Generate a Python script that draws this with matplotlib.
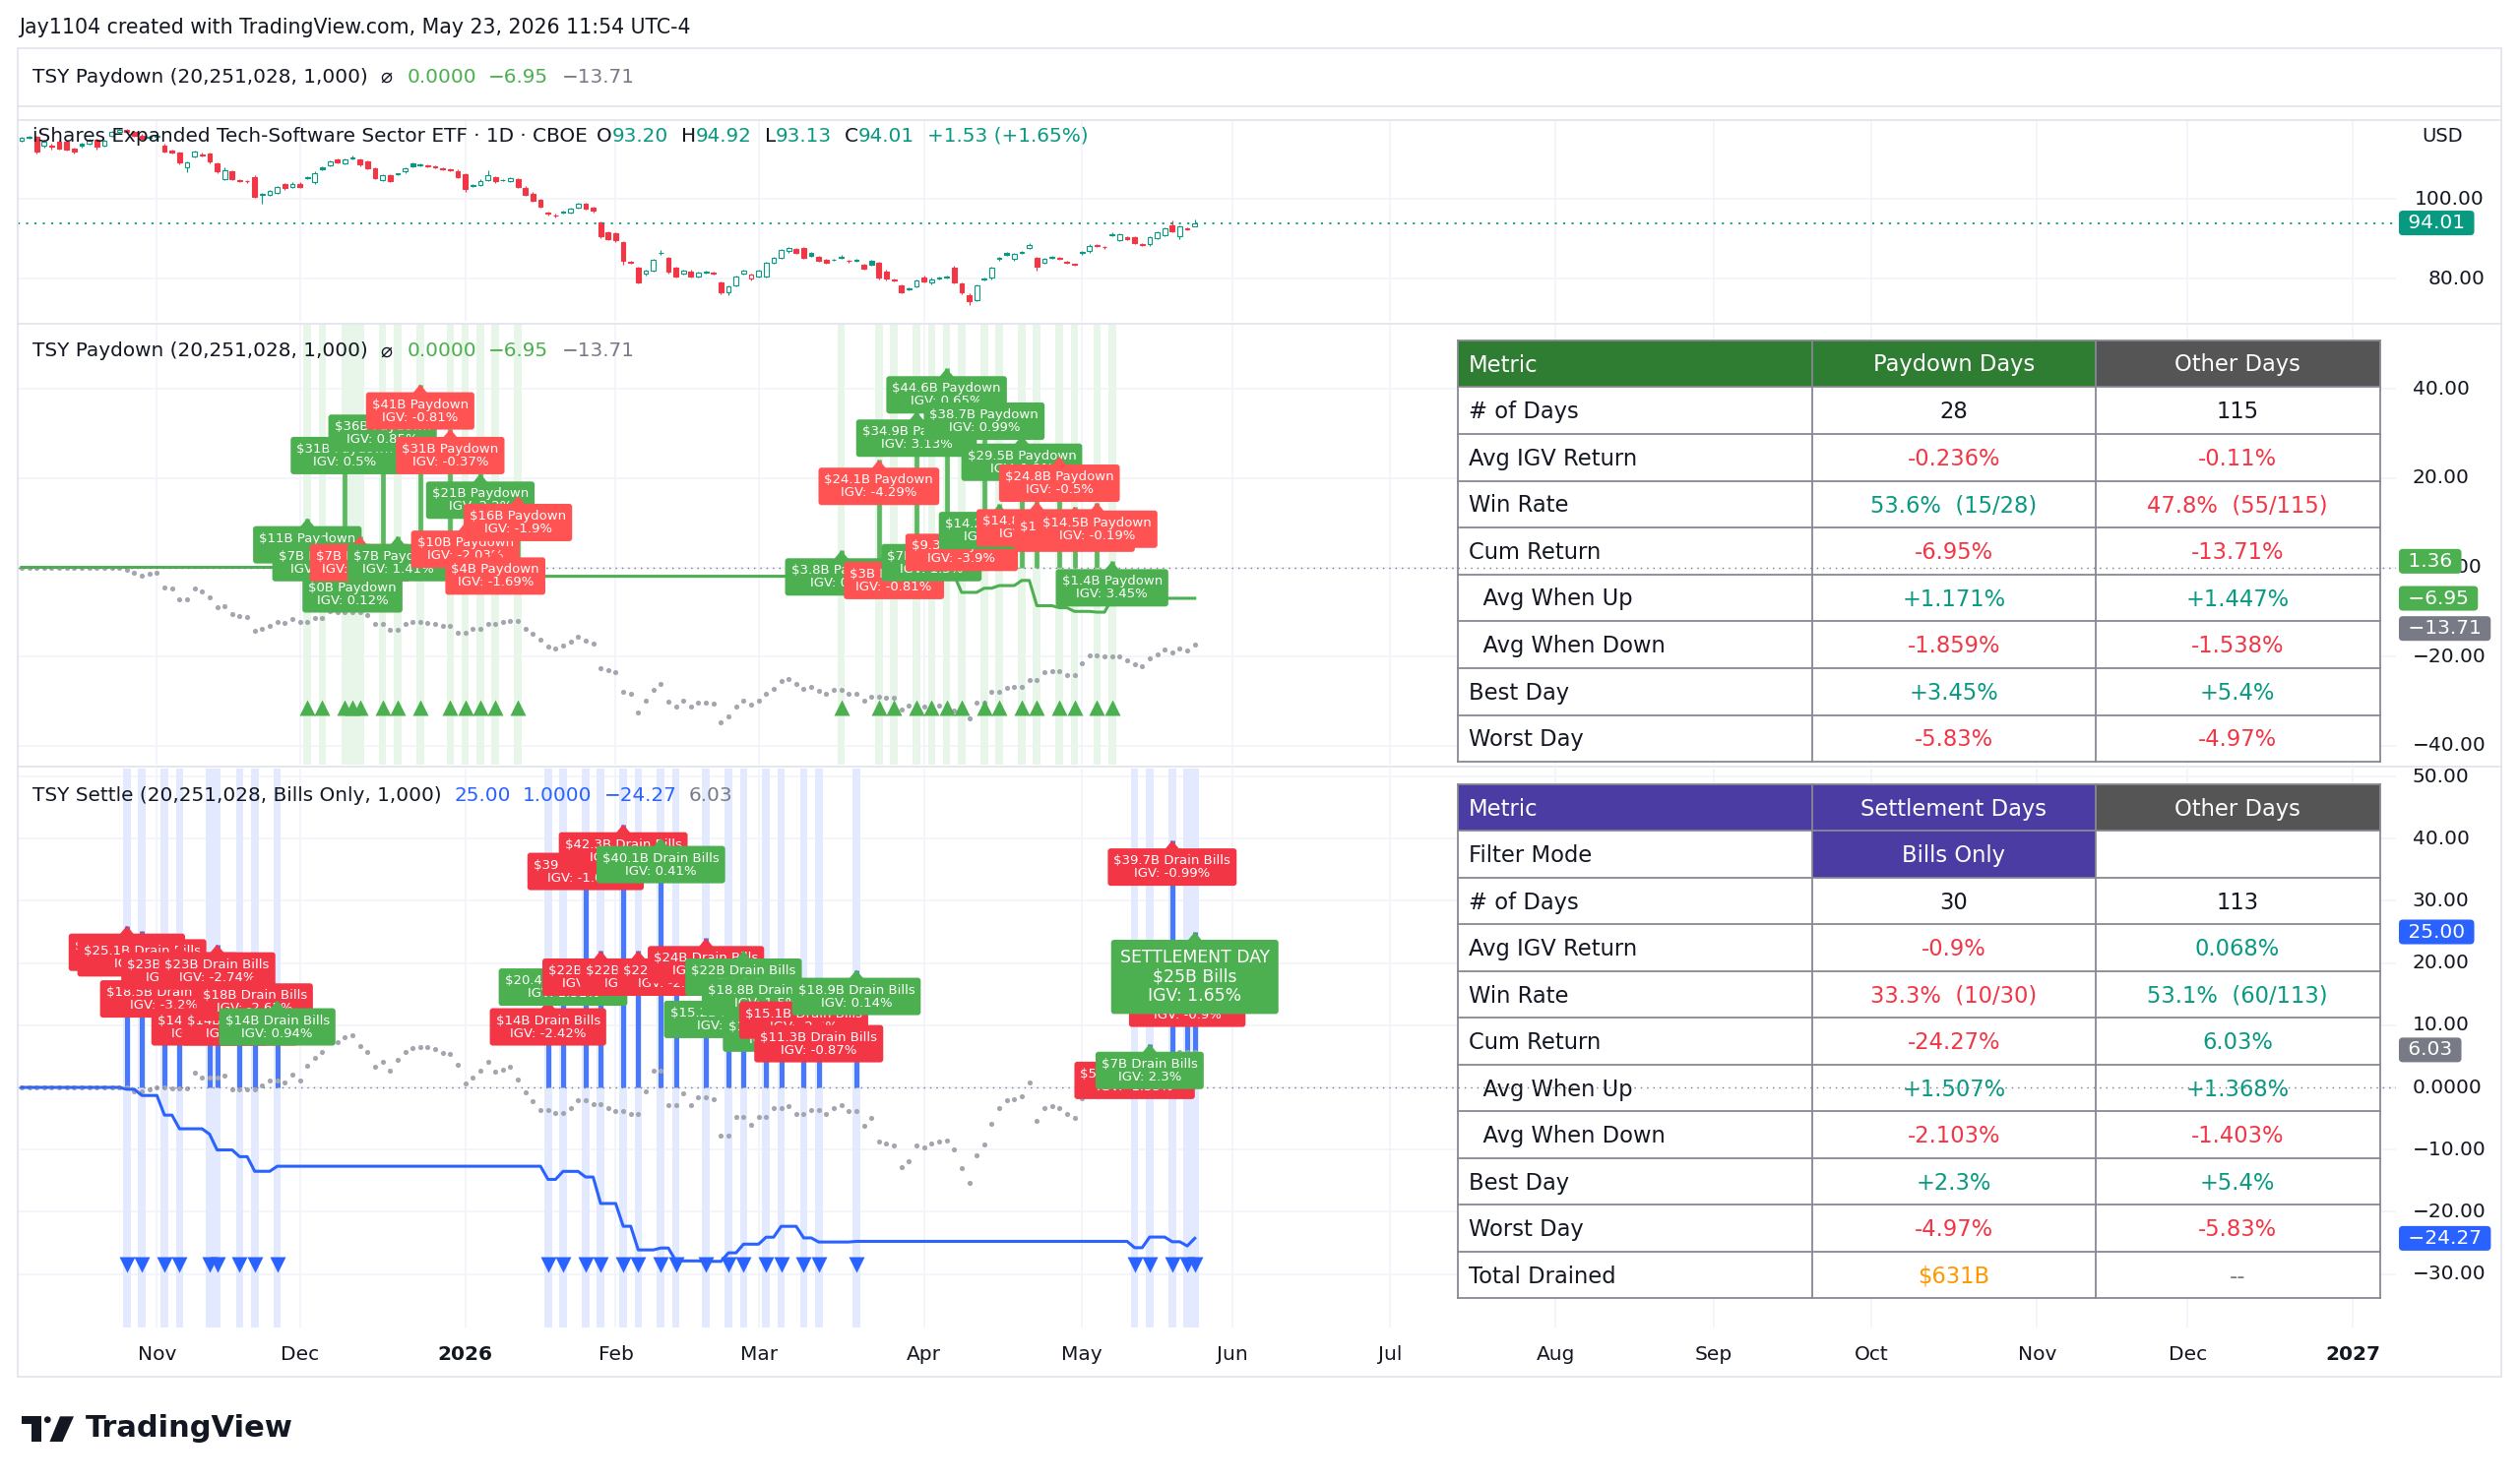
import numpy as np
import pandas as pd
import matplotlib
matplotlib.use("Agg")
import matplotlib.pyplot as plt
from matplotlib.patches import Rectangle, Polygon, Circle
from matplotlib.lines import Line2D
from matplotlib.transforms import IdentityTransform, blended_transform_factory

plt.rcParams["font.family"] = ["DejaVu Sans"]

# ------------------------------------------------------------------ data
first_bar = "2025-10-08"
last_future = "2027-02-26"
market_holidays = ["2025-11-27", "2025-12-25", "2026-01-01", "2026-01-19", "2026-02-16",
                   "2026-04-03", "2026-05-25", "2026-06-19", "2026-07-03", "2026-09-07",
                   "2026-11-26", "2026-12-25", "2027-01-01", "2027-01-18", "2027-02-15"]
stats_start = "2025-10-28"

opens = [114.7, 115.6, 115.6, 113.3, 113.4, 114.4, 114.3, 112.7, 113.8, 113.9,
         114.8, 113.4, 116.0, 116.9, 117.3, 116.8, 116.0, 115.3, 115.6, 113.5,
         112.1, 111.6, 108.0, 110.8, 111.2, 111.5, 109.0, 105.0, 106.9, 104.7,
         104.5, 105.6, 101.1, 101.0, 101.5, 103.8, 103.1, 103.9, 105.2, 104.3,
         108.0, 108.5, 110.0, 109.0, 110.3, 110.0, 109.4, 107.7, 104.8, 106.0,
         106.2, 106.9, 108.9, 108.6, 108.3, 108.2, 107.8, 107.5, 107.1, 106.3,
         103.4, 103.5, 104.8, 105.4, 104.7, 104.6, 104.9, 102.9, 101.4, 99.8,
         96.5, 96.0, 96.9, 96.6, 97.8, 98.9, 97.9, 94.1, 91.6, 91.4,
         89.1, 84.2, 82.7, 81.3, 82.1, 86.4, 85.2, 82.7, 81.3, 81.9,
         80.6, 81.7, 81.4, 79.0, 76.6, 78.3, 81.4, 80.0, 80.5, 80.6,
         84.1, 85.2, 86.9, 87.5, 87.7, 86.4, 85.4, 84.8, 84.7, 85.6,
         84.5, 84.6, 83.5, 84.4, 84.0, 81.9, 79.7, 78.3, 77.4, 78.1,
         80.4, 79.0, 80.1, 80.6, 82.9, 78.9, 76.0, 74.6, 80.0, 80.2,
         85.2, 86.4, 84.9, 86.5, 87.7, 85.2, 84.0, 85.4, 85.1, 84.2,
         83.6, 86.8, 86.9, 88.4, 88.0, 91.3, 89.7, 90.5, 90.5, 88.6,
         88.6, 90.2, 91.0, 93.5, 90.6, 92.6, 93.20]
closes = [115.3, 115.4, 112.0, 114.4, 113.2, 112.7, 112.5, 111.9, 113.3, 114.8,
          113.1, 114.6, 116.8, 117.4, 116.8, 116.0, 115.2, 115.6, 116.0, 112.0,
          111.8, 109.1, 109.1, 111.9, 111.0, 109.4, 106.9, 107.3, 105.0, 104.5,
          104.4, 100.6, 101.3, 102.1, 103.0, 102.7, 103.9, 103.0, 105.4, 106.6,
          107.6, 109.4, 109.2, 110.0, 110.4, 108.6, 107.7, 105.2, 106.0, 104.6,
          106.3, 107.7, 108.3, 108.5, 108.4, 108.1, 107.5, 107.3, 105.5, 102.5,
          103.5, 104.6, 106.0, 104.4, 104.8, 105.2, 103.1, 101.0, 99.6, 98.1,
          96.3, 95.8, 96.6, 97.5, 98.8, 97.7, 97.0, 90.6, 90.0, 89.6,
          84.4, 84.0, 79.1, 82.1, 84.8, 86.5, 81.9, 80.6, 82.1, 80.5,
          81.6, 81.6, 81.3, 76.5, 78.0, 80.5, 82.1, 81.0, 82.1, 84.0,
          85.2, 87.3, 87.7, 86.5, 85.2, 85.8, 84.6, 84.0, 84.8, 85.3,
          84.4, 84.5, 82.5, 83.6, 80.2, 80.0, 79.6, 76.6, 77.5, 79.6,
          79.4, 79.9, 80.2, 80.3, 79.1, 76.5, 74.4, 78.3, 79.8, 82.7,
          84.9, 86.0, 86.2, 86.6, 88.5, 83.1, 85.0, 85.2, 85.0, 84.1,
          83.5, 86.4, 88.3, 88.2, 87.9, 91.0, 91.1, 90.0, 89.0, 88.5,
          90.5, 91.6, 92.7, 91.9, 93.1, 92.48, 94.01]
up_wick = [0.3, 0.3, 0.2, 0.3, 0.4, 0.4, 0.3, 0.3, 0.3, 0.3,
           0.3, 0.3, 0.3, 0.3, 0.3, 0.3, 0.3, 0.3, 0.3, 0.3,
           0.3, 0.3, 0.3, 0.3, 0.4, 0.3, 0.3, 0.6, 0.3, 0.3,
           0.3, 0.5, 0.3, 0.3, 0.3, 0.3, 0.3, 0.3, 0.3, 0.3,
           0.3, 0.3, 0.3, 0.3, 0.5, 0.3, 0.3, 0.3, 0.3, 0.3,
           0.3, 0.3, 0.3, 0.3, 0.3, 0.3, 0.3, 0.3, 0.3, 0.3,
           0.3, 0.3, 1.2, 0.3, 0.3, 0.3, 0.3, 0.3, 0.3, 0.3,
           0.3, 0.3, 0.3, 0.3, 0.3, 0.3, 0.3, 0.3, 0.3, 0.3,
           0.3, 0.3, 0.3, 0.3, 0.3, 0.8, 0.3, 0.3, 0.3, 0.3,
           0.3, 0.3, 0.3, 0.3, 0.3, 0.3, 0.3, 0.3, 0.3, 0.3,
           0.3, 0.3, 0.3, 0.3, 0.3, 0.3, 0.3, 0.3, 0.3, 0.3,
           0.3, 0.3, 0.3, 0.3, 0.3, 0.3, 0.3, 0.3, 0.3, 0.3,
           0.3, 0.3, 0.3, 0.3, 0.5, 0.3, 0.3, 0.3, 0.3, 0.3,
           0.3, 0.3, 0.3, 0.3, 0.5, 0.3, 0.3, 0.3, 0.3, 0.3,
           0.3, 0.3, 0.3, 0.3, 0.3, 0.3, 0.3, 0.3, 0.3, 0.3,
           0.3, 0.3, 0.3, 1.1, 0.3, 0.3, 0.91]
dn_wick = [0.3, 0.3, 0.6, 0.3, 0.9, 0.3, 0.3, 0.5, 0.3, 0.3,
           0.8, 0.3, 0.3, 0.3, 0.3, 0.3, 0.3, 0.3, 0.3, 0.4,
           0.3, 0.3, 1.2, 0.3, 0.3, 0.4, 0.3, 0.3, 0.3, 0.3,
           0.3, 0.3, 2.3, 0.3, 0.3, 0.3, 0.3, 0.3, 0.3, 0.4,
           0.3, 0.3, 0.3, 0.3, 0.3, 0.3, 0.3, 0.3, 0.3, 0.3,
           0.3, 0.3, 0.3, 0.3, 0.3, 0.3, 0.3, 0.3, 0.3, 0.6,
           0.3, 0.3, 0.3, 0.3, 0.3, 0.3, 0.3, 0.3, 0.3, 0.3,
           0.3, 0.3, 0.3, 0.3, 0.3, 0.3, 0.3, 0.3, 0.3, 0.3,
           0.8, 0.3, 0.3, 0.5, 0.3, 0.3, 0.6, 0.3, 0.3, 0.3,
           0.3, 0.3, 0.3, 0.3, 0.6, 0.3, 0.3, 0.3, 0.3, 0.3,
           0.3, 0.3, 0.3, 0.3, 0.3, 0.3, 0.3, 0.3, 0.3, 0.3,
           0.3, 0.3, 0.3, 0.3, 0.3, 0.3, 0.3, 0.3, 0.3, 0.3,
           0.3, 0.3, 0.3, 0.3, 0.3, 0.3, 0.9, 0.3, 0.3, 0.3,
           0.3, 0.3, 0.3, 0.3, 0.3, 1.0, 0.3, 0.3, 0.3, 0.3,
           0.3, 0.3, 0.3, 0.3, 0.3, 0.3, 0.3, 0.3, 0.3, 0.3,
           0.3, 0.3, 0.3, 0.3, 0.6, 0.3, 0.07]

paydown_dates = ["2025-12-02", "2025-12-04", "2025-12-09", "2025-12-10", "2025-12-11",
                 "2025-12-16", "2025-12-18", "2025-12-23", "2025-12-30", "2026-01-02",
                 "2026-01-06", "2026-01-08", "2026-01-13", "2026-03-17", "2026-03-24",
                 "2026-03-26", "2026-03-31", "2026-04-02", "2026-04-07", "2026-04-09",
                 "2026-04-14", "2026-04-16", "2026-04-21", "2026-04-23", "2026-04-28",
                 "2026-04-30", "2026-05-05", "2026-05-07"]
paydown_bn = [11, 7, 31, 0, 7, 36, 7, 41, 31, 10, 21, 4, 16,
              3.8, 24.1, 3, 34.9, 7, 44.6, 9.3, 38.7, 14.2, 29.5, 14.8, 24.8, 13.6, 14.5, 1.36]
paydown_igv = [0.45, 0.3, 0.5, 0.12, -0.95, 0.85, 1.41, -0.81, -0.37, -2.03, 2.2, -1.69, -1.9,
               0.4, -4.29, -0.81, 3.13, 1.3, 0.65, -3.9, 0.99, 0.62, 1.2, -5.83, -0.5, -0.9, -0.19, 3.45]

settle_dates = ["2025-10-28", "2025-10-30", "2025-11-04", "2025-11-06", "2025-11-12",
                "2025-11-13", "2025-11-18", "2025-11-20", "2025-11-25", "2026-01-20",
                "2026-01-22", "2026-01-27", "2026-01-29", "2026-02-03", "2026-02-05",
                "2026-02-10", "2026-02-12", "2026-02-19", "2026-02-24", "2026-02-26",
                "2026-03-03", "2026-03-05", "2026-03-10", "2026-03-12", "2026-03-19",
                "2026-05-12", "2026-05-14", "2026-05-19", "2026-05-21", "2026-05-22"]
settle_bn = [26, 25.1, 18.5, 23, 14, 23, 14, 18, 14,
             14, 20.4, 39, 22, 42.3, 22, 40.1, 22, 24, 15.2, 22, 18.8, 13, 15.1, 11.3, 18.9,
             5.4, 7, 39.7, 17, 25]
settle_igv = [-0.3, -1.0, -3.2, -2.3, -0.93, -2.74, -1.2, -2.65, 0.94,
              -2.42, 1.51, -1.05, -4.97, -4.5, -4.9, 0.41, -2.79, -0.1, 1.9, 1.9, 1.5, 2.3,
              -2.4, -0.87, 0.14, -1.35, 2.3, -0.99, -0.9, 1.65]

# header / legend texts
credit_text = "Jay1104 created with TradingView.com, May 23, 2026 11:54 UTC-4"
price_name = "iShares Expanded Tech-Software Sector ETF \u00b7 1D \u00b7 CBOE"
ohlc_vals = ["93.20", "94.92", "93.13", "94.01"]
change_text = "+1.53 (+1.65%)"
paydown_title = "TSY Paydown (20,251,028, 1,000)"
paydown_legend_vals = ["0.0000", "\u22126.95", "\u221213.71"]
settle_title = "TSY Settle (20,251,028, Bills Only, 1,000)"
settle_legend_vals = ["25.00", "1.0000", "\u221224.27", "6.03"]

price_ticks = [100, 80]
pane2_ticks = [40, 20, 0, -20, -40]
pane3_ticks = [50, 40, 30, 20, 10, 0, -10, -20, -30]
last_price = 94.01
pane2_tags = [(1.36, "1.36", "#4caf50"), (-6.95, "\u22126.95", "#4caf50"), (-13.71, "\u221213.71", "#787b86")]
pane3_tags = [(25.0, "25.00", "#2962ff"), (6.03, "6.03", "#787b86"), (-24.27, "\u221224.27", "#2962ff")]

K, G, R, O, GR = "#131722", "#089981", "#f23645", "#ff9800", "#787b86"
tbl1_header = ["Metric", "Paydown Days", "Other Days"]
tbl1_rows = [["# of Days", "28", "115"],
             ["Avg IGV Return", "-0.236%", "-0.11%"],
             ["Win Rate", "53.6%  (15/28)", "47.8%  (55/115)"],
             ["Cum Return", "-6.95%", "-13.71%"],
             ["  Avg When Up", "+1.171%", "+1.447%"],
             ["  Avg When Down", "-1.859%", "-1.538%"],
             ["Best Day", "+3.45%", "+5.4%"],
             ["Worst Day", "-5.83%", "-4.97%"]]
tbl1_colors = [[K, K, K], [K, R, R], [K, G, R], [K, R, R], [K, G, G], [K, R, R], [K, G, G], [K, R, R]]
tbl2_header = ["Metric", "Settlement Days", "Other Days"]
tbl2_rows = [["Filter Mode", "Bills Only", ""],
             ["# of Days", "30", "113"],
             ["Avg IGV Return", "-0.9%", "0.068%"],
             ["Win Rate", "33.3%  (10/30)", "53.1%  (60/113)"],
             ["Cum Return", "-24.27%", "6.03%"],
             ["  Avg When Up", "+1.507%", "+1.368%"],
             ["  Avg When Down", "-2.103%", "-1.403%"],
             ["Best Day", "+2.3%", "+5.4%"],
             ["Worst Day", "-4.97%", "-5.83%"],
             ["Total Drained", "$631B", "--"]]
tbl2_colors = [[K, "white", K], [K, K, K], [K, R, G], [K, R, G], [K, R, G], [K, G, G],
               [K, R, R], [K, G, G], [K, R, R], [K, O, GR]]

# ------------------------------------------------------------------ derived series
days = pd.bdate_range(first_bar, last_future)
days = days[~days.isin(pd.to_datetime(market_holidays))]
pos = {d: i for i, d in enumerate(days)}
n = len(closes)
xi = np.arange(n)
c_arr = np.array(closes)
daily = np.r_[0.0, c_arr[1:] / c_arr[:-1] - 1]
start_i = pos[pd.Timestamp(stats_start)]
pay_x = np.array([pos[pd.Timestamp(d)] for d in paydown_dates])
set_x = np.array([pos[pd.Timestamp(d)] for d in settle_dates])


def other_cum(event_x):
    m = np.ones(n, bool)
    m[:start_i] = False
    m[event_x] = False
    return (np.cumprod(1 + np.where(m, daily, 0.0)) - 1) * 100


def event_cum(event_x, rets):
    r = np.zeros(n)
    r[event_x] = np.array(rets) / 100.0
    return (np.cumprod(1 + r) - 1) * 100


pay_cum = event_cum(pay_x, paydown_igv)
pay_other = other_cum(pay_x)
set_cum = event_cum(set_x, settle_igv)
set_other = other_cum(set_x)

# ------------------------------------------------------------------ figure / layout
W, H = 2560, 1507
fig = plt.figure(figsize=(W / 100, H / 100), dpi=100)
fig.patch.set_facecolor("white")
X0, X1 = 18, 2434
bar0_px, bar_px = 21.9, 7.64
xlim = ((X0 - bar0_px) / bar_px, (X1 - bar0_px) / bar_px)
T = IdentityTransform()


def fx(x):
    return x / W


def fy(y):
    return 1 - y / H


def make_ax(top, bottom, y0, y1):
    ax = fig.add_axes([fx(X0), fy(bottom), fx(X1) - fx(X0), (bottom - top) / H])
    ax.set_xlim(*xlim)
    ax.set_ylim(y0, y1)
    ax.set_xticks([])
    ax.set_yticks([])
    for s in ax.spines.values():
        s.set_visible(False)
    ax.set_facecolor("white")
    return ax


ax1 = make_ax(122, 327, 69.21, 119.83)
ax2 = make_ax(330, 777, -44.21, 54.36)
ax3 = make_ax(781, 1349, -38.61, 51.27)

# frame and separators
frame_c = "#e0e3eb"
fig.add_artist(Rectangle((fx(18), fy(1399)), fx(2541) - fx(18), (1399 - 49) / H,
                         transform=fig.transFigure, fill=False, ec=frame_c, lw=1.2))
for yy in [108, 121.5, 328.5, 779]:
    fig.add_artist(Line2D([fx(18), fx(2541)], [fy(yy), fy(yy)], transform=fig.transFigure,
                          color=frame_c, lw=1.2))

# month grid
month_idx = [i for i in range(1, len(days)) if days[i].month != days[i - 1].month
             and xlim[0] < i < xlim[1]]
grid_c = "#f0f3fa"
for ax in (ax1, ax2, ax3):
    for i in month_idx:
        ax.axvline(i, color=grid_c, lw=1.1, zorder=0.2)
for v in price_ticks:
    ax1.axhline(v, color=grid_c, lw=1.1, zorder=0.2)
for v in pane2_ticks:
    ax2.axhline(v, color=grid_c, lw=1.1, zorder=0.2)
for v in pane3_ticks:
    ax3.axhline(v, color=grid_c, lw=1.1, zorder=0.2)

# ------------------------------------------------------------------ price pane
UP, DN = "#089981", "#f23645"
for i in range(n):
    o, c = opens[i], closes[i]
    hi = max(o, c) + up_wick[i]
    lo = min(o, c) - dn_wick[i]
    prev = closes[i - 1] if i > 0 else o
    col = UP if c >= prev else DN
    ax1.plot([i, i], [lo, hi], color=col, lw=0.8, zorder=2, solid_capstyle="butt")
    hollow = c > o
    bh = max(abs(c - o), 0.18)
    ax1.add_patch(Rectangle((i - 0.31, min(o, c)), 0.62, bh, fc="white" if hollow else col,
                            ec=col, lw=0.8, zorder=3))
ax1.axhline(last_price, color=UP, lw=1.3, ls=(0, (1.2, 3.5)), zorder=4)

# ------------------------------------------------------------------ pane 2 (paydown)
PG, PR = "#4caf50", "#ff5252"
for x in pay_x:
    ax2.axvspan(x - 0.5, x + 0.5, color="#e8f5e9", lw=0, zorder=0.5)
ax2.vlines(pay_x, 0, paydown_bn, color="#5cb860", lw=3.4, zorder=2)
ax2.plot(xi, pay_other, "o", ms=3.7, color="#a3a6ae", mec="none", zorder=3)
ax2.plot(xi, pay_cum, color=PG, lw=2.2, zorder=4)
ax2.plot(pay_x, np.full(len(pay_x), 0.129), "^", ms=11.5, color=PG, mec="none",
         transform=blended_transform_factory(ax2.transData, ax2.transAxes), zorder=5)
ax2.axhline(0, color=GR, lw=1.0, ls=(0, (1, 3.6)), zorder=30)

# ------------------------------------------------------------------ pane 3 (settle)
for x in set_x:
    ax3.axvspan(x - 0.5, x + 0.5, color="#e3e9fe", lw=0, zorder=0.5)
ax3.vlines(set_x, 0, settle_bn, color="#4a78fb", lw=3.6, zorder=2)
ax3.plot(xi, set_other, "o", ms=3.7, color="#a3a6ae", mec="none", zorder=3)
ax3.plot(xi, set_cum, color="#2962ff", lw=2.2, zorder=4)
ax3.plot(set_x, np.full(len(set_x), 0.113), "v", ms=11.5, color="#2962ff", mec="none",
         transform=blended_transform_factory(ax3.transData, ax3.transAxes), zorder=5)
ax3.axhline(0, color=GR, lw=1.0, ls=(0, (1, 3.6)), zorder=30)


# ------------------------------------------------------------------ labels
def fmt_bn(a):
    return ("%.1f" % a).rstrip("0").rstrip(".")


def draw_label(ax, x, y, text, fc, fs, z, pad_px=6.0, ptr_h=8.0, ptr_w=15.0, ls=1.0):
    px, py = ax.transData.transform((x, y))
    fs_px = fs * 100 / 72.0
    ax.text(px, py - ptr_h - pad_px, text, transform=T, ha="center", va="top", fontsize=fs,
            color="white", linespacing=ls, multialignment="center", zorder=z,
            bbox=dict(boxstyle="round,pad=%.3f,rounding_size=%.3f" % (pad_px / fs_px, 3.0 / fs_px),
                      fc=fc, ec="none"))
    ax.add_patch(Polygon([[px, py], [px - ptr_w / 2, py - ptr_h - 1], [px + ptr_w / 2, py - ptr_h - 1]],
                         closed=True, transform=T, fc=fc, ec="none", zorder=z))


for k, (x, a, r) in enumerate(zip(pay_x, paydown_bn, paydown_igv)):
    txt = "$%sB Paydown\nIGV: %s%%" % (fmt_bn(a), ("%g" % r))
    draw_label(ax2, x, a, txt, PG if r >= 0 else PR, 9.5, 40 + k * 0.01)

for k, (x, a, r) in enumerate(zip(set_x, settle_bn, settle_igv)):
    if k == len(set_x) - 1:
        txt = "SETTLEMENT DAY\n$%sB Bills\nIGV: %g%%" % (fmt_bn(a), r)
        draw_label(ax3, x, a, txt, PG if r >= 0 else R, 12.4, 40 + k * 0.01, pad_px=9, ls=1.12)
    else:
        txt = "$%sB Drain Bills\nIGV: %g%%" % (fmt_bn(a), r)
        draw_label(ax3, x, a, txt, PG if r >= 0 else R, 9.5, 40 + k * 0.01)


# ------------------------------------------------------------------ tables
def draw_table(ax, top, rh, header, header_bg, rows, colors, cell_bg):
    edges = [1481, 1841, 2128.5, 2417.6]
    nrows = len(rows) + 1
    bottom = top + rh * nrows
    fs = 16.3
    z = 20
    for j in range(3):
        ax.add_patch(Rectangle((edges[j], H - (top + rh)), edges[j + 1] - edges[j], rh,
                               transform=T, fc=header_bg[j], ec="none", zorder=z))
        xt = edges[0] + 11 if j == 0 else (edges[j] + edges[j + 1]) / 2
        ax.text(xt, H - (top + rh / 2 + 1.5), header[j], transform=T, ha="left" if j == 0 else "center",
                va="center", fontsize=fs, color="white", zorder=z + 1)
    for r, row in enumerate(rows):
        yt = top + rh * (r + 1)
        for j in range(3):
            bg = cell_bg.get((r, j), "white")
            ax.add_patch(Rectangle((edges[j], H - (yt + rh)), edges[j + 1] - edges[j], rh,
                                   transform=T, fc=bg, ec="none", zorder=z))
            xt = edges[0] + 11 if j == 0 else (edges[j] + edges[j + 1]) / 2
            ax.text(xt, H - (yt + rh / 2 + 1.5), row[j], transform=T, ha="left" if j == 0 else "center",
                    va="center", fontsize=fs, color=colors[r][j], zorder=z + 1)
    bc = "#868993"
    for r in range(nrows + 1):
        yy = H - (top + rh * r)
        ax.add_line(Line2D([edges[0], edges[-1]], [yy, yy], transform=T, color=bc, lw=1.3, zorder=z + 2))
    for e in edges:
        ax.add_line(Line2D([e, e], [H - top, H - bottom], transform=T, color=bc, lw=1.3, zorder=z + 2))


draw_table(ax2, 345.7, 47.6, tbl1_header, ["#2e7d32", "#2e7d32", "#555555"], tbl1_rows, tbl1_colors, {})
draw_table(ax3, 796.8, 47.5, tbl2_header, ["#4b3ca3", "#4b3ca3", "#555555"], tbl2_rows, tbl2_colors,
           {(0, 1): "#4b3ca3"})


# ------------------------------------------------------------------ right price scales
def axis_text(ax, v, s, x, ha):
    tr = blended_transform_factory(fig.transFigure, ax.transData)
    ax.text(fx(x), v, s, transform=tr, ha=ha, va="center", fontsize=14.5, color=K, clip_on=False, zorder=50)


def tag(ax, v, s, colr):
    tr = blended_transform_factory(fig.transFigure, ax.transData)
    ax.text(fx(2440), v, " " + s + " ", transform=tr, ha="left", va="center", fontsize=14.5,
            color="white", clip_on=False, zorder=60,
            bbox=dict(boxstyle="round,pad=0.15,rounding_size=0.2", fc=colr, ec="none"))


def minus(v):
    s = ("%.2f" % abs(v)) if v != 0 else "0.0000"
    return ("\u2212" + s) if v < 0 else s


for v in price_ticks:
    axis_text(ax1, v, "%.2f" % v, 2524, "right")
ax1.text(fx(2481), (327 - 139) / (327 - 122), "USD",
         transform=blended_transform_factory(fig.transFigure, ax1.transAxes),
         fontsize=14, color=K, ha="center", va="center", clip_on=False)
tag(ax1, last_price, "%.2f" % last_price, UP)
for v in pane2_ticks:
    axis_text(ax2, v, minus(v), 2450.5, "left")
for v, s, colr in pane2_tags:
    tag(ax2, v, s, colr)
for v in pane3_ticks:
    axis_text(ax3, v, minus(v), 2450.5, "left")
for v, s, colr in pane3_tags:
    tag(ax3, v, s, colr)

# ------------------------------------------------------------------ time axis
tr_t = blended_transform_factory(ax3.transData, fig.transFigure)
for i in month_idx:
    d = days[i]
    lab = str(d.year) if d.month == 1 else d.strftime("%b")
    ax3.text(i, fy(1377), lab, transform=tr_t, ha="center", va="center", fontsize=14.5, color=K,
             fontweight="bold" if d.month == 1 else "normal", clip_on=False)

# ------------------------------------------------------------------ legends / titles
renderer = fig.canvas.get_renderer()


def runs(x, y, parts, fs):
    for s, colr, gap in parts:
        t = fig.text(fx(x), fy(y), s, color=colr, fontsize=fs, va="center", ha="left")
        bb = t.get_window_extent(renderer)
        x += bb.width + gap


fig.text(fx(19), fy(28), credit_text, fontsize=14.8, color=K, va="center", ha="left")
pay_parts = [(paydown_title, K, 13), ("\u2300", K, 15), (paydown_legend_vals[0], "#4caf50", 12),
             (paydown_legend_vals[1], "#4caf50", 13), (paydown_legend_vals[2], GR, 0)]
runs(33, 78, pay_parts, 14.4)
runs(33, 357, pay_parts, 14.4)
set_parts = [(settle_title, K, 13), (settle_legend_vals[0], "#2962ff", 12),
             (settle_legend_vals[1], "#2962ff", 12), (settle_legend_vals[2], "#2962ff", 12),
             (settle_legend_vals[3], GR, 0)]
runs(33, 808, set_parts, 14.4)
price_parts = [(price_name, K, 9), ("O", K, 0), (ohlc_vals[0], UP, 13), ("H", K, 0), (ohlc_vals[1], UP, 13),
               ("L", K, 0), (ohlc_vals[2], UP, 13), ("C", K, 0), (ohlc_vals[3], UP, 13), (change_text, UP, 0)]
runs(33, 138, price_parts, 14.4)


# ------------------------------------------------------------------ TradingView logo
def px_rect(x0, y0, x1, y1):
    return Rectangle((x0, H - y1), x1 - x0, y1 - y0, transform=T, fc=K, ec="none")


fig.add_artist(px_rect(21.7, 1439.3, 41.7, 1446.7))
fig.add_artist(px_rect(31.7, 1439.3, 41.7, 1465))
fig.add_artist(Circle((48.3, H - 1442.7), 3.4, transform=T, fc=K, ec="none"))
fig.add_artist(Polygon([[61, H - 1439.3], [75, H - 1439.3], [63.5, H - 1465], [50.5, H - 1465]], closed=True,
                       transform=T, fc=K, ec="none"))
fig.text(fx(87), fy(1452), "TradingView", fontsize=22, fontweight="bold", color=K, va="center", ha="left")

fig.savefig("out.png", dpi=100, facecolor="white")
